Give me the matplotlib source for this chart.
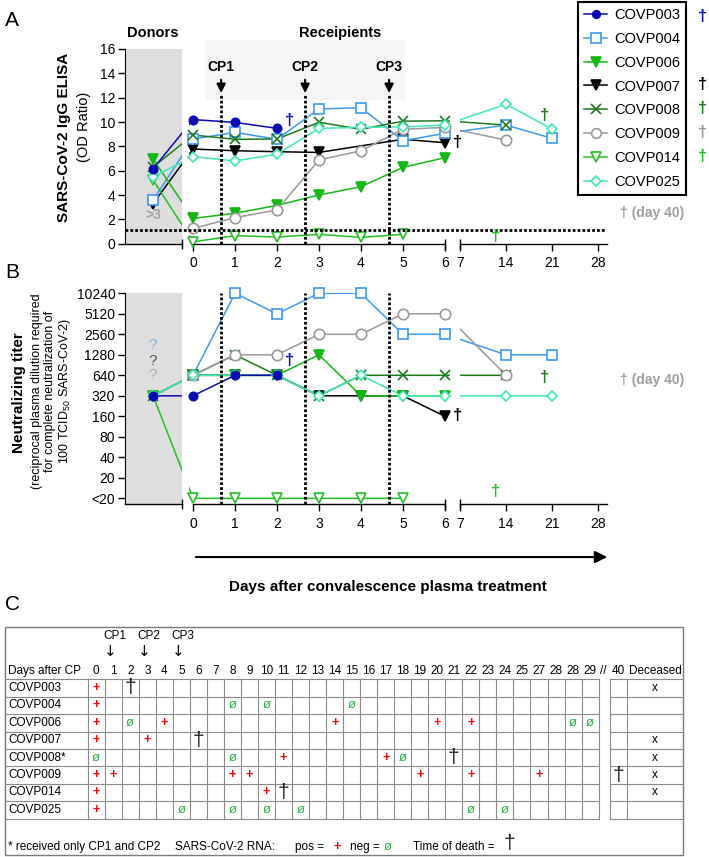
import numpy as np
import matplotlib
matplotlib.use('Agg')
import matplotlib.pyplot as plt
from matplotlib.lines import Line2D
from matplotlib.patches import Rectangle

plt.rcParams['font.family'] = ['Liberation Sans', 'DejaVu Sans']

# ---- data ----
names = ['COVP003', 'COVP004', 'COVP006', 'COVP007', 'COVP008', 'COVP009', 'COVP014', 'COVP025']
colors = ['#0a0ab4', '#3d9af0', '#14b814', '#000000', '#1d7a1d', '#9a9a9a', '#22c022', '#3ee8b4']
markers = ['o', 's', 'v', 'v', 'x', 'o', 'v', 'D']
filled = [True, False, True, True, True, False, False, False]
msizes = [6, 7, 7.5, 7.5, 7, 7.5, 7.5, 5.5]
draw_order = [3, 1, 2, 4, 5, 6, 7, 0]

elisa_days = [[0, 1, 2],
              [0, 1, 2, 3, 4, 5, 6, 14, 21],
              [0, 1, 2, 3, 4, 5, 6],
              [0, 1, 2, 3, 5, 6],
              [0, 1, 2, 3, 4, 5, 6, 14],
              [0, 1, 2, 3, 4, 5, 6, 14],
              [0, 1, 2, 3, 4, 5],
              [0, 1, 2, 3, 4, 5, 6, 14, 21]]
elisa_vals = [[10.2, 9.97, 9.48],
              [8.6, 9.15, 8.58, 11.07, 11.18, 8.46, 9.07, 9.75, 8.66],
              [2.08, 2.5, 3.15, 4.0, 4.68, 6.27, 7.07],
              [7.78, 7.64, 7.56, 7.5, 8.58, 8.3],
              [8.93, 8.58, 8.6, 9.98, 9.4, 10.07, 10.1, 9.75],
              [1.26, 2.14, 2.77, 6.88, 7.64, 9.4, 9.56, 8.52],
              [0.15, 0.66, 0.55, 0.77, 0.52, 0.77],
              [7.15, 6.8, 7.36, 9.48, 9.56, 9.6, 9.75, 11.47, 9.42]]
elisa_donor = [6.16, 3.59, 6.96, 3.3, 6.3, None, 5.23, 5.5]

titer_days = [[0, 1, 2],
              [0, 1, 2, 3, 4, 5, 6, 14, 21],
              [0, 1, 2, 3, 4, 5, 6],
              [0, 1, 2, 3, 4, 5, 6],
              [0, 1, 2, 3, 4, 5, 6, 14],
              [0, 1, 2, 3, 4, 5, 6, 14],
              [0, 1, 2, 3, 4, 5],
              [0, 1, 2, 3, 4, 5, 6, 14, 21]]
titer_vals = [[320, 640, 640],
              [640, 10240, 5120, 10240, 10240, 2560, 2560, 1280, 1280],
              [640, 640, 640, 1280, 320, 320, 320],
              [640, 640, 640, 320, 320, 320, 160],
              [640, 1280, 640, 320, 640, 640, 640, 640],
              [640, 1280, 1280, 2560, 2560, 5120, 5120, 640],
              [10, 10, 10, 10, 10, 10],
              [640, 640, 640, 320, 640, 320, 320, 320, 320]]
titer_donor = [320, None, 320, None, 320, None, 320, 320]

# time of death markers (patient index, day, elisa level, titer level)
death_idx = [0, 3, 4, 6]
death_day = [2.29, 6.3, 19.8, 12.4]
death_elisa = [10.1, 8.35, 10.5, 0.57]
death_titer = [1040, 167, 589, 12.8]

titer_ticks = [10, 20, 40, 80, 160, 320, 640, 1280, 2560, 5120, 10240]
titer_labels = ['<20', '20', '40', '80', '160', '320', '640', '1280', '2560', '5120', '10240']
day_ticks = [0, 1, 2, 3, 4, 5, 6, 7, 14, 21, 28]
cp_days = [0.67, 2.67, 4.67]

# table (panel C)
table_cols = [str(d) for d in range(26)] + ['27', '28', '28', '29']
rna_pos = [[0], [0], [0, 4, 14, 20, 22], [0, 3], [11, 17], [0, 1, 8, 9, 19, 22, 26], [0, 10], [0]]
rna_neg = [[], [8, 10, 15], [2, 28, 29], [], [0, 8, 18], [], [], [5, 8, 10, 12, 22, 24]]
death_col = [2, None, None, 6, 21, 40, 11, None]
deceased = [True, False, False, True, True, True, True, False]
row_names = ['COVP003', 'COVP004', 'COVP006', 'COVP007', 'COVP008*', 'COVP009', 'COVP014', 'COVP025']

DONOR = -0.95
XMIN, XMAX = -1.62, 9.86


def pos(d):
    d = np.asarray(d, dtype=float)
    return np.where(d <= 6.5, d, 6.36 + (d - 7) * 0.1565)


W, H = 709, 857
fig = plt.figure(figsize=(W / 100, H / 100), dpi=100)


def px_axes(x0, y0, x1, y1):
    return fig.add_axes([x0 / W, 1 - y1 / H, (x1 - x0) / W, (y1 - y0) / H])


def style_series(ax, days, vals, donors):
    for n, i in enumerate(draw_order):
        x = list(pos(days[i]))
        y = list(vals[i])
        if donors[i] is not None:
            x = [DONOR] + x
            y = [donors[i]] + y
        ax.plot(x, y, color=colors[i], lw=1.1, zorder=2)
        ax.plot(x, y, ls='none', marker=markers[i], ms=msizes[i],
                mfc=colors[i] if filled[i] else 'white', mec=colors[i],
                mew=1.2, zorder=4 + n * 0.01, clip_on=False)
    # gaps in the broken axis
    ax.axvspan(-0.26, -0.1, color='white', zorder=3, lw=0)
    ax.axvspan(6.12, 6.36, color='white', zorder=3, lw=0)


def broken_xaxis(ax):
    ax.spines['bottom'].set_visible(False)
    ax.spines['top'].set_visible(False)
    ax.spines['right'].set_visible(False)
    tr = ax.get_xaxis_transform()
    for a, b in [(XMIN, -0.26), (0, 6), (6.36, XMAX)]:
        ax.plot([a, b], [0, 0], transform=tr, color='k', lw=1, clip_on=False, zorder=6)
    ax.plot([-0.26, 6, 6.36], [0, 0, 0], transform=tr, ls='none', marker='|',
            ms=7, mew=1, color='k', clip_on=False, zorder=6)
    ax.set_xticks(list(pos(day_ticks)))
    ax.set_xticklabels([str(d) for d in day_ticks])
    ax.tick_params(axis='x', direction='out', length=5, width=1, labelsize=10, pad=4)
    ax.tick_params(axis='y', direction='out', length=5, width=1, labelsize=10, pad=2)
    ax.set_xlim(XMIN, XMAX)


dots = (0, (1, 0.75))

# ---- panel A ----
axA = px_axes(125, 49, 607, 243.7)
axA.set_ylim(0, 16)
axA.set_yticks(range(0, 17, 2))
broken_xaxis(axA)
axA.axvspan(XMIN, -0.26, color='#dedede', zorder=0, lw=0)
axA.add_patch(Rectangle((0.29, 11.8), 4.76, 4.94, color='#f5f5f5', lw=0,
                        zorder=0, clip_on=False))
style_series(axA, elisa_days, elisa_vals, elisa_donor)
axA.plot([XMIN, 9.81], [1.1, 1.1], color='k', lw=2, ls=dots, zorder=5)
for k, c in enumerate(cp_days):
    axA.plot([c, c], [0, 12.2], color='k', lw=2, ls=dots, zorder=5)
    axA.annotate('', xy=(c, 12.15), xytext=(c, 13.7),
                 arrowprops=dict(arrowstyle='-|>', color='k', lw=1.5, mutation_scale=13),
                 annotation_clip=False)
    axA.text(c, 14.5, 'CP%d' % (k + 1), ha='center', va='center', fontsize=10,
             fontweight='bold', clip_on=False)
for j, i in enumerate(death_idx):
    axA.text(pos(death_day[j]), death_elisa[j], '†', color=colors[i], ha='center',
             va='center', fontsize=12, fontweight='bold', zorder=7, clip_on=False)
axA.text(DONOR, 2.35, '>3', color='#a0a0a0', ha='center', va='center',
         fontsize=10, fontweight='bold')

fig.text(153 / W, 1 - 33 / H, 'Donors', ha='center', va='center', fontsize=10.5, fontweight='bold')
fig.text(340 / W, 1 - 33 / H, 'Receipients', ha='center', va='center', fontsize=10.5, fontweight='bold')
fig.text(64 / W, 1 - 137 / H, 'SARS-CoV-2 IgG ELISA', rotation=90, ha='center', va='center',
         fontsize=11, fontweight='bold')
fig.text(84 / W, 1 - 127 / H, '(OD Ratio)', rotation=90, ha='center', va='center', fontsize=10.5)
fig.text(620 / W, 1 - 213 / H, '† (day 40)', color='#a0a0a0', ha='left', va='center',
         fontsize=10, fontweight='bold')

# ---- panel B ----
axB = px_axes(125, 293.3, 607, 504.3)
axB.set_yscale('log', base=2)
axB.set_ylim(8.17, 10240)
axB.set_yticks(titer_ticks)
axB.set_yticklabels(titer_labels)
axB.minorticks_off()
broken_xaxis(axB)
axB.axvspan(XMIN, -0.26, ymax=1, color='#dedede', zorder=0, lw=0)
style_series(axB, titer_days, titer_vals, titer_donor)
for c in cp_days:
    axB.plot([c, c], [8.17, 10240], color='k', lw=2, ls=dots, zorder=5)
for j, i in enumerate(death_idx):
    axB.text(pos(death_day[j]), death_titer[j], '†', color=colors[i], ha='center',
             va='center', fontsize=12, fontweight='bold', zorder=7, clip_on=False)
for lvl, col in zip([1800, 1040, 645], ['#7fb2ea', '#555555', '#aaaaaa']):
    axB.text(DONOR, lvl, '?', color=col, ha='center', va='center', fontsize=11)

fig.text(620 / W, 1 - 380 / H, '† (day 40)', color='#a0a0a0', ha='left', va='center',
         fontsize=10, fontweight='bold')
fig.text(19 / W, 1 - 393 / H, 'Neutralizing titer', rotation=90, ha='center', va='center',
         fontsize=11, fontweight='bold')
fig.text(52 / W, 1 - 391 / H,
         '(reciprocal plasma dilution required\nfor complete neutralization of\n'
         '100 TCID$_{\\mathregular{50}}$ SARS-CoV-2)',
         rotation=90, ha='center', va='center', fontsize=9, linespacing=1.1,
         multialignment='center')
trB = axB.get_xaxis_transform()
axB.annotate('', xy=(9.93, -0.25), xytext=(0, -0.25), xycoords=trB, textcoords=trB,
             arrowprops=dict(arrowstyle='-|>', color='k', lw=1.5, mutation_scale=18))
fig.text(388 / W, 1 - 587 / H, 'Days after convalescence plasma treatment', ha='center',
         va='center', fontsize=11, fontweight='bold')

# ---- legend ----
handles = [Line2D([], [], color=colors[i], marker=markers[i], ms=msizes[i] - 0.5,
                  mfc=colors[i] if filled[i] else 'white', mec=colors[i], mew=1.2, lw=1.1)
           for i in range(len(names))]
leg = fig.legend(handles, names, loc='upper left', bbox_to_anchor=(578 / W, 1 - 2 / H),
                 fancybox=False, edgecolor='black', framealpha=1, fontsize=10.5,
                 labelspacing=0.68, handlelength=1.6, handletextpad=0.5, borderpad=0.4,
                 borderaxespad=0)
leg.get_frame().set_linewidth(1.5)
for y, c in zip([17, 84, 108, 133, 157], [colors[0], colors[3], colors[4], colors[5], colors[6]]):
    fig.text(703 / W, 1 - y / H, '†', color=c, ha='center', va='center', fontsize=12,
             fontweight='bold')

# panel letters
for lab, y in [('A', 20), ('B', 273), ('C', 605)]:
    fig.text(12 / W, 1 - y / H, lab, ha='center', va='center', fontsize=15)

# ---- panel C: table ----
axC = fig.add_axes([0, 0, 1, 1], zorder=-5)
axC.set_xlim(0, W)
axC.set_ylim(H, 0)
axC.axis('off')
gc = '#8a8a8a'
axC.add_patch(Rectangle((5, 627), 678, 228, fill=False, ec='#7a7a7a', lw=1))
row_top, row_h = 679.3, 17.4
col_x0, col_w = 87.7, 17.03
n_rows, n_cols = len(row_names), len(table_cols)
grid_right = col_x0 + n_cols * col_w
d40_x0, d40_x1, dec_x1 = 610.3, 627.3, 683
for r in range(n_rows + 1):
    y = row_top + r * row_h
    axC.plot([5, grid_right], [y, y], color=gc, lw=0.8)
    axC.plot([d40_x0, dec_x1], [y, y], color=gc, lw=0.8)
row_bot = row_top + n_rows * row_h
for k in range(n_cols + 1):
    x = col_x0 + k * col_w
    axC.plot([x, x], [row_top, row_bot], color=gc, lw=0.8)
for x in [d40_x0, d40_x1]:
    axC.plot([x, x], [row_top, row_bot], color=gc, lw=0.8)

fs = 8.5
hy = 671
axC.text(8, hy, 'Days after CP', ha='left', va='center', fontsize=fs)
for k, lab in enumerate(table_cols):
    axC.text(col_x0 + (k + 0.5) * col_w, hy, lab, ha='center', va='center', fontsize=fs)
axC.text(603.5, hy, '//', ha='center', va='center', fontsize=fs)
axC.text((d40_x0 + d40_x1) / 2, hy, '40', ha='center', va='center', fontsize=fs)
axC.text((d40_x1 + dec_x1) / 2, hy, 'Deceased', ha='center', va='center', fontsize=fs)
for k, cpi in enumerate([0.8, 2.8, 4.8]):
    x = col_x0 + (cpi + 0.5) * col_w
    axC.text(x + 5, 635.7, 'CP%d' % (k + 1), ha='center', va='center', fontsize=fs)
    axC.text(x, 651.5, '↓', ha='center', va='center', fontsize=11, family='DejaVu Sans')


def cell_x(c):
    if c == 40:
        return (d40_x0 + d40_x1) / 2
    return col_x0 + (c + 0.5) * col_w


for r in range(n_rows):
    yc = row_top + (r + 0.5) * row_h
    axC.text(8, yc, row_names[r], ha='left', va='center', fontsize=fs)
    for c in rna_pos[r]:
        axC.text(cell_x(c), yc, '+', color='red', ha='center', va='center', fontsize=9,
                 fontweight='bold')
    for c in rna_neg[r]:
        axC.text(cell_x(c), yc, 'ø', color='#2db34a', ha='center', va='center', fontsize=9.5)
    if death_col[r] is not None:
        axC.text(cell_x(death_col[r]), yc, '†', color='#222222', ha='center', va='center',
                 fontsize=15)
    if deceased[r]:
        axC.text((d40_x1 + dec_x1) / 2, yc, 'x', ha='center', va='center', fontsize=fs)

fy = 847
axC.text(8, fy, '* received only CP1 and CP2', ha='left', va='center', fontsize=fs)
axC.text(175, fy, 'SARS-CoV-2 RNA:', ha='left', va='center', fontsize=fs)
axC.text(295, fy, 'pos =', ha='left', va='center', fontsize=fs)
axC.text(337, fy, '+', color='red', ha='center', va='center', fontsize=9, fontweight='bold')
axC.text(350, fy, 'neg =', ha='left', va='center', fontsize=fs)
axC.text(388, fy, 'ø', color='#2db34a', ha='center', va='center', fontsize=9.5)
axC.text(413, fy, 'Time of death =', ha='left', va='center', fontsize=fs)
axC.text(509, fy - 3, '†', color='#222222', ha='center', va='center', fontsize=15)

fig.savefig('out.png', dpi=100)
